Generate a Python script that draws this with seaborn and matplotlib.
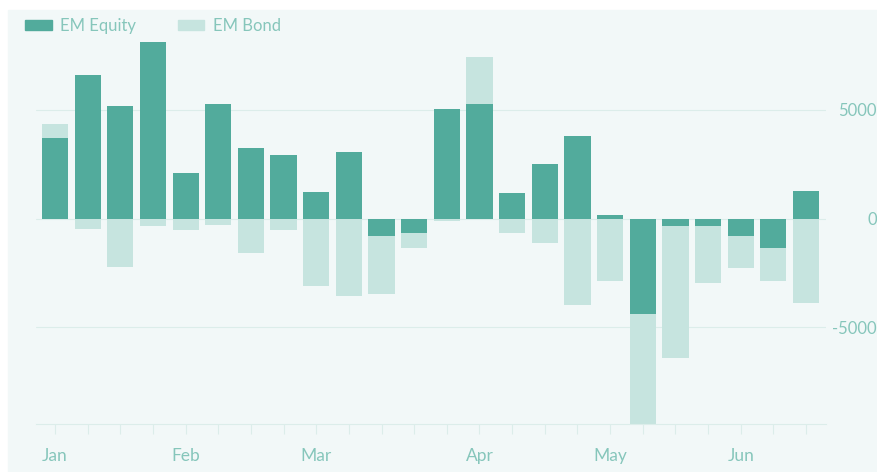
import numpy as np
import pandas as pd
import matplotlib
matplotlib.use("Agg")
import matplotlib.pyplot as plt
from matplotlib.patches import Patch, Rectangle
import seaborn as sns

# weekly flows, Jan..Jun
weeks = [f"W{i + 1}" for i in range(24)]
em_equity = [3730, 6600, 5180, 8140, 2120, 5260, 3250, 2950, 1230, 3060, -780, -670,
             5030, 5260, 1200, 2500, 3790, 180, -4390, -330, -330, -820, -1330, 1250]
em_bond = [630, -470, -2230, -320, -510, -290, -1590, -510, -3090, -3580, -2680, -690,
           -130, 2160, -670, -1100, -3980, -2890, -5060, -6080, -2630, -1450, -1560, -3860]
month_labels = {0: "Jan", 4: "Feb", 8: "Mar", 13: "Apr", 17: "May", 21: "Jun"}

eq_col = "#52ab9c"
bond_col = "#c6e4df"
bg_col = "#f2f8f8"
txt_col = "#86c6bb"
line_col = "#dcedea"

df = pd.DataFrame({"week": weeks, "equity": em_equity, "bond": em_bond})
# bond segment is stacked on equity when both have the same sign
same = np.sign(df["equity"]) == np.sign(df["bond"])
df["bond_end"] = np.where(same, df["equity"] + df["bond"], df["bond"])

sns.set_theme(style="white")
plt.rcParams["font.family"] = ["Lato", "DejaVu Sans"]

fig = plt.figure(figsize=(8.78, 4.72), dpi=100)
fig.patches.append(Rectangle((8 / 878, 0), 870 / 878, 462 / 472,
                             transform=fig.transFigure, color=bg_col, zorder=-10))
ax = fig.add_axes([36 / 878, 48 / 472, 790 / 878, 414 / 472])
ax.set_facecolor("none")

sns.barplot(data=df, x="week", y="bond_end", color=bond_col, width=0.8,
            saturation=1, order=weeks, ax=ax, zorder=2, linewidth=0)
sns.barplot(data=df, x="week", y="equity", color=eq_col, width=0.8,
            saturation=1, order=weeks, ax=ax, zorder=3, linewidth=0)

ax.set_xlim(-0.58, 23.61)
ax.set_ylim(-9450, 9600)

for v in (-5000, 0, 5000):
    ax.axhline(v, color=line_col, lw=0.8, zorder=1)

ax.set_xticks(range(len(weeks)))
ax.set_xticklabels([month_labels.get(i, "") for i in range(len(weeks))])
ax.tick_params(axis="x", length=7, width=0.8, color=line_col, labelcolor=txt_col,
               labelsize=12.5, pad=10, bottom=True)

ax.yaxis.tick_right()
ax.set_yticks([-5000, 0, 5000])
ax.set_yticklabels(["-5000", "0", "5000"])
ax.tick_params(axis="y", length=0, labelsize=12, labelcolor=txt_col, pad=36.5)
for lab in ax.get_yticklabels():
    lab.set_horizontalalignment("right")

ax.set_xlabel("")
ax.set_ylabel("")
for s in ("top", "left", "right"):
    ax.spines[s].set_visible(False)
ax.spines["bottom"].set_color(line_col)
ax.spines["bottom"].set_linewidth(0.8)
ax.spines["bottom"].set_zorder(4)

handles = [Patch(color=eq_col, label="EM Equity"), Patch(color=bond_col, label="EM Bond")]
leg = fig.legend(handles=handles, loc="upper left", bbox_to_anchor=(10 / 878, 1 - 3 / 472),
                 ncol=2, frameon=False, fontsize=12, handlelength=1.6, handleheight=0.6,
                 columnspacing=2.5, handletextpad=0.5)
for t in leg.get_texts():
    t.set_color(txt_col)

fig.savefig("out.png", dpi=100)
